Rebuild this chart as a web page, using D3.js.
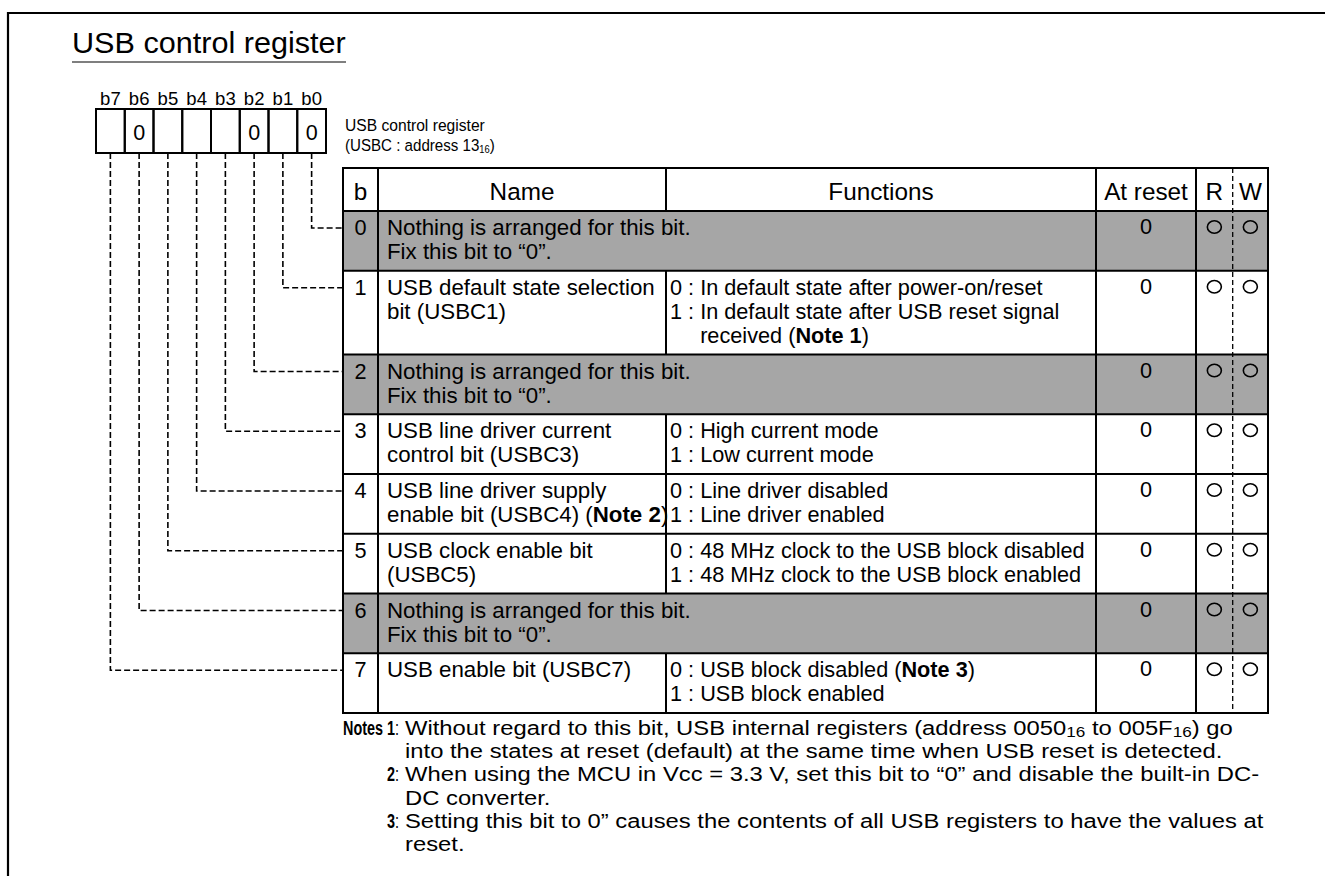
<!DOCTYPE html>
<html><head><meta charset="utf-8">
<script src="https://cdn.jsdelivr.net/npm/d3@7"></script>
<style>
body{margin:0;background:#fff}
svg{display:block}
text{font-family:"Liberation Sans", Arial, Helvetica, sans-serif; fill:#000}
</style>
</head><body><svg id="c" width="1325" height="876"></svg>
<script>
// ---------------- data ----------------
const titleText = "USB control register";
const regBitLabels = ["b7","b6","b5","b4","b3","b2","b1","b0"];
const regCellValues = ["", "0", "", "", "", "0", "", "0"];
const regNameLines = ["USB control register", "(USBC : address 13<sub>16</sub>)"];
const headerLabels = ["b", "Name", "Functions", "At reset", "R", "W"];
const bitNumbers = [0, 1, 2, 3, 4, 5, 6, 7];
const reservedBits = [true, false, true, false, false, false, true, false];
const reservedText = ["Nothing is arranged for this bit.", "Fix this bit to “0”."];
const nameLines = [
  [],
  ["USB default state selection", "bit (USBC1)"],
  [],
  ["USB line driver current", "control bit (USBC3)"],
  ["USB line driver supply", "enable bit (USBC4) (<b>Note 2</b>)"],
  ["USB clock enable bit", "(USBC5)"],
  [],
  ["USB enable bit (USBC7)"]
];
const funcLines = [
  [],
  ["0 : In default state after power-on/reset", "1 : In default state after USB reset signal", "\treceived (<b>Note 1</b>)"],
  [],
  ["0 : High current mode", "1 : Low current mode"],
  ["0 : Line driver disabled", "1 : Line driver enabled"],
  ["0 : 48 MHz clock to the USB block disabled", "1 : 48 MHz clock to the USB block enabled"],
  [],
  ["0 : USB block disabled (<b>Note 3</b>)", "1 : USB block enabled"]
];
const resetValues = ["0", "0", "0", "0", "0", "0", "0", "0"];
const readFlags  = [true, true, true, true, true, true, true, true];
const writeFlags = [true, true, true, true, true, true, true, true];
const noteLabels = ["Notes 1", "", "2", "", "3", ""];
const noteLines = [
  "Without regard to this bit, USB internal registers (address 0050<sub>16</sub> to 005F<sub>16</sub>) go",
  "into the states at reset (default) at the same time when USB reset is detected.",
  "When using the MCU in Vcc = 3.3 V, set this bit to “0” and disable the built-in DC-",
  "DC converter.",
  "Setting this bit to 0” causes the contents of all USB registers to have the values at",
  "reset."
];

// ---------------- drawing ----------------
const svg = d3.select("#c");
const NAME_SIZE = 22.3, FUNC_SIZE = 21.7;
const GRAY = "#a6a6a6";

function txt(g, x, y, s, o = {}) {
  const sx = o.sx ?? 1;
  const subDy = o.subDy ?? 3;
  const t = g.append("text")
    .attr("transform", `translate(${x},${y}) scale(${sx},1)`)
    .attr("font-size", o.size ?? NAME_SIZE)
    .attr("text-anchor", o.anchor ?? "start");
  const parts = s.split(/(<b>|<\/b>|<sub>|<\/sub>)/);
  let bold = false, sub = false, pendingDy = 0;
  parts.forEach(p => {
    if (p === "<b>") bold = true;
    else if (p === "</b>") bold = false;
    else if (p === "<sub>") { sub = true; pendingDy += subDy; }
    else if (p === "</sub>") { sub = false; pendingDy -= subDy; }
    else if (p) {
      const ts = t.append("tspan").text(p);
      if (bold) ts.attr("font-weight", "bold");
      if (sub) ts.attr("font-size", o.subSize ?? "0.68em");
      if (pendingDy) { ts.attr("dy", pendingDy); pendingDy = 0; }
    }
  });
  return t;
}
function width(s, o) {
  const t = txt(svg, 0, -200, s, o);
  const w = t.node().getComputedTextLength();
  t.remove();
  return w;
}

// outer frame
svg.append("path").attr("d", "M8,876 V13 H1325").attr("fill", "none").attr("stroke", "#000").attr("stroke-width", 2.2);

// title
txt(svg, 72, 53, titleText, { size: 30, sx: 1.02 });
svg.append("line").attr("x1", 72).attr("x2", 346).attr("y1", 62).attr("y2", 62).attr("stroke", "#000").attr("stroke-width", 1.2);

// register box
const xReg = d3.scaleBand().domain(regBitLabels).range([96, 326]);
const regTop = 109, regBot = 153;
regBitLabels.forEach((b, i) => {
  const cx = xReg(b) + xReg.bandwidth() / 2;
  txt(svg, cx, 105, b, { size: 18.5, anchor: "middle" });
  svg.append("rect").attr("x", xReg(b)).attr("y", regTop).attr("width", xReg.bandwidth()).attr("height", regBot - regTop)
    .attr("fill", "none").attr("stroke", "#000").attr("stroke-width", 2);
  if (regCellValues[i]) txt(svg, cx, 140, regCellValues[i], { size: 21.5, anchor: "middle" });
});
txt(svg, 345, 131, regNameLines[0], { size: 16.8, sx: 0.93 });
txt(svg, 345, 151, regNameLines[1], { size: 16.8, sx: 0.9, subSize: "0.62em", subDy: 2 });

// table geometry
const C = { left: 343, bEnd: 378, nameEnd: 666, funcEnd: 1096, resetEnd: 1196, rwMid: 1232.7, right: 1268 };
const tableTop = 168, headBot = 211;
const LINE = 24, PAD = 11.75;
const rowLines = bitNumbers.map(i => reservedBits[i] ? 2 : Math.max(nameLines[i].length, funcLines[i].length));
const rowHeights = rowLines.map(n => PAD + LINE * n);
const rowTops = [];
rowHeights.reduce((acc, h, i) => { rowTops[i] = acc; return acc + h; }, headBot);
const yRow = d3.scaleOrdinal().domain(bitNumbers).range(rowTops);
const tableBot = rowTops[7] + rowHeights[7];

// gray reserved rows
bitNumbers.forEach(i => {
  if (reservedBits[i]) svg.append("rect").attr("x", C.left).attr("y", yRow(i)).attr("width", C.right - C.left).attr("height", rowHeights[i]).attr("fill", GRAY);
});

// connectors
regBitLabels.forEach((b, k) => {
  const bit = 7 - k;
  const cx = xReg(b) + xReg.bandwidth() / 2;
  const y = yRow(bit) + 17;
  svg.append("path").attr("d", `M${cx},${regBot} V${y} H${C.left}`)
    .attr("fill", "none").attr("stroke", "#000").attr("stroke-width", 1.6).attr("stroke-dasharray", "6,3");
});

// grid
const grid = svg.append("g").attr("stroke", "#000").attr("stroke-width", 2).attr("fill", "none");
grid.append("rect").attr("x", C.left).attr("y", tableTop).attr("width", C.right - C.left).attr("height", tableBot - tableTop);
[headBot, ...rowTops.slice(1)].forEach(y => grid.append("line").attr("x1", C.left).attr("x2", C.right).attr("y1", y).attr("y2", y));
[C.bEnd, C.funcEnd, C.resetEnd].forEach(x => grid.append("line").attr("x1", x).attr("x2", x).attr("y1", tableTop).attr("y2", tableBot));
grid.append("line").attr("x1", C.nameEnd).attr("x2", C.nameEnd).attr("y1", tableTop).attr("y2", headBot);
bitNumbers.forEach(i => {
  if (!reservedBits[i]) grid.append("line").attr("x1", C.nameEnd).attr("x2", C.nameEnd).attr("y1", yRow(i)).attr("y2", yRow(i) + rowHeights[i]);
});
svg.append("line").attr("x1", C.rwMid).attr("x2", C.rwMid).attr("y1", tableTop).attr("y2", tableBot)
  .attr("stroke", "#000").attr("stroke-width", 1.3).attr("stroke-dasharray", "5,3");

// header
const headCenters = [(C.left + C.bEnd) / 2, (C.bEnd + C.nameEnd) / 2, (C.nameEnd + C.funcEnd) / 2, (C.funcEnd + C.resetEnd) / 2, (C.resetEnd + C.rwMid) / 2, (C.rwMid + C.right) / 2];
headerLabels.forEach((h, i) => txt(svg, headCenters[i], 200, h, { anchor: "middle", size: 24.3 }));

// rows
const indent = width("1 : In", { size: FUNC_SIZE }) - width("In", { size: FUNC_SIZE });

bitNumbers.forEach(i => {
  const top = yRow(i);
  const base = top + 24;
  txt(svg, (C.left + C.bEnd) / 2, base, String(i), { anchor: "middle", size: FUNC_SIZE });
  if (reservedBits[i]) {
    reservedText.forEach((s, j) => txt(svg, C.bEnd + 9, base + j * LINE, s));
  } else {
    nameLines[i].forEach((s, j) => txt(svg, C.bEnd + 9, base + j * LINE, s));
    funcLines[i].forEach((s, j) => {
      const ind = s.startsWith("\t");
      txt(svg, C.nameEnd + 4 + (ind ? indent : 0), base + j * LINE, ind ? s.slice(1) : s, { size: FUNC_SIZE });
    });
  }
  txt(svg, (C.funcEnd + C.resetEnd) / 2, base - 1, resetValues[i], { anchor: "middle", size: FUNC_SIZE });
  const cy = top + 16;
  if (readFlags[i]) svg.append("ellipse").attr("cx", (C.resetEnd + C.rwMid) / 2).attr("cy", cy).attr("rx", 7).attr("ry", 6.3).attr("fill", "none").attr("stroke", "#000").attr("stroke-width", 1.6);
  if (writeFlags[i]) svg.append("ellipse").attr("cx", (C.rwMid + C.right) / 2).attr("cy", cy).attr("rx", 7).attr("ry", 6.3).attr("fill", "none").attr("stroke", "#000").attr("stroke-width", 1.6);
});

// notes
const NSIZE = 21, LSIZE = 21;
const noteOpt = { size: NSIZE, subSize: "0.72em", subDy: 1.5 };
const NSX = (1233 - 405) / width(noteLines[0], noteOpt);
const LSX = (395 - 343) / width("<b>Notes 1</b>", { size: LSIZE });
const noteBase = tableBot + 22;
noteLines.forEach((s, j) => {
  const y = noteBase + j * 23.2;
  if (noteLabels[j]) {
    txt(svg, 395, y, `<b>${noteLabels[j]}</b>`, { size: LSIZE, sx: LSX, anchor: "end" });
    txt(svg, 395, y, ":", { size: LSIZE, sx: LSX });
  }
  txt(svg, 405, y, s, Object.assign({ sx: NSX }, noteOpt));
});
</script>
</body></html>
